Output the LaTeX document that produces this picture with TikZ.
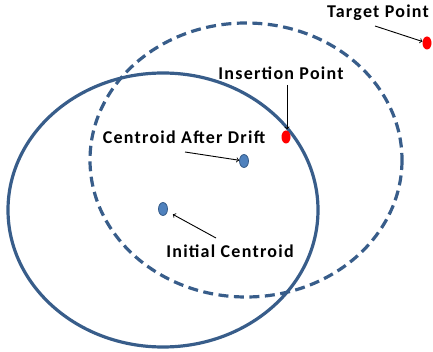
\documentclass[tikz,border=0pt]{standalone}
\usepackage{fontspec}
\setmainfont{Carlito}
\usetikzlibrary{calc, shapes.geometric}

\definecolor{ringblue}{RGB}{56,93,138}
\definecolor{dotblue}{RGB}{79,129,189}

\tikzset{
    ring/.style={draw=ringblue, line width=3.2pt},
    dot/.style={ellipse, minimum width=9pt, minimum height=13pt, inner sep=0pt},
    label text/.style={font=\fontsize{18}{21}\selectfont\bfseries\addfontfeatures{LetterSpace=7}, inner sep=1pt},
    pointer/.style={->, >=to, black, line width=0.9pt}
}

\begin{document}
\begin{tikzpicture}[x=1pt, y=-1pt]
    \useasboundingbox (0, 0) rectangle (433, 352);

    % the two clusters
    \draw[ring] (163, 210) ellipse [x radius=155, y radius=137];
    \draw[ring, dash pattern=on 10pt off 5.5pt] (246, 160) ellipse [x radius=156, y radius=137];

    \node[dot, fill=red] (target) at (427, 43) {};
    \node[dot, fill=red] (insert) at (286, 137) {};
    \node[dot, fill=dotblue, draw=ringblue, thick] (drift) at (244, 161) {};
    \node[dot, fill=dotblue, draw=ringblue, thick] (init) at (163, 209) {};

    \node[label text] (targetlbl) at (378, 13) {Target Point};
    \node[label text] (insertlbl) at (281, 73) {Insertion Point};
    \node[label text] (driftlbl) at (184, 137) {Centroid After Drift};
    \node[label text] (initlbl) at (230, 251) {Initial\ Centroid};

    \coordinate (targettail) at (375, 26);
    \coordinate (inserttail) at (287, 85);
    \coordinate (drifttail) at (185, 152);
    \coordinate (inittail) at (216, 238);

    \draw[pointer] (targettail) -- (target);
    \draw[pointer] (inserttail) -- ($(insert.north) + (1, -1)$);
    \draw[pointer] (drifttail) -- (drift);
    \draw[pointer, shorten >=6pt] (inittail) -- (init);
\end{tikzpicture}
\end{document}
